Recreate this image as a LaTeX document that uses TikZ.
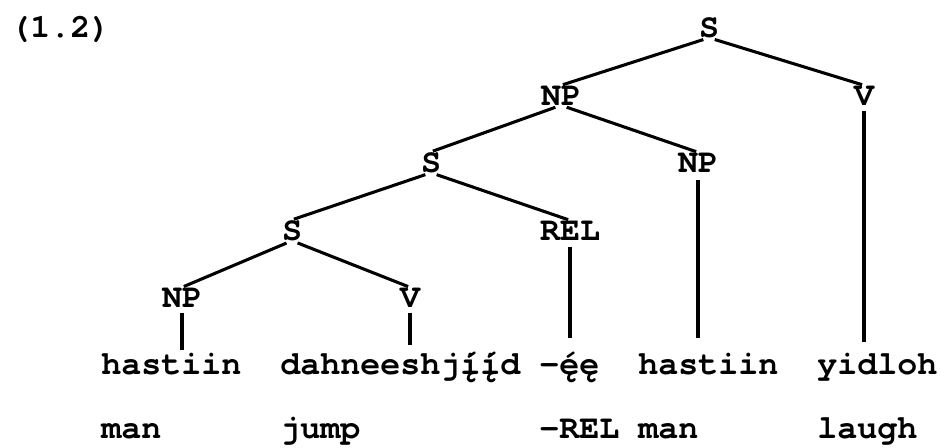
\documentclass[tikz,border=0pt]{standalone}
\usepackage{fontspec}
\newfontfamily\tyfam{TeX Gyre Cursor}
\newcommand\tyf{\tyfam\bfseries\fontsize{25}{30}\selectfont}
\begin{document}
\begin{tikzpicture}[x=0.75pt,y=-0.75pt,
  lab/.style={font=\tyf, inner sep=0pt, anchor=base},
  wrd/.style={font=\tyf, inner sep=0pt, anchor=base west},
  br/.style={line width=2.3pt},
  diag/.style={br, shorten <=4.5pt, shorten >=1.5pt}]
\useasboundingbox (0,0) rectangle (940,447);
% example number
\node[wrd] (ex) at (10,37) {(1.2)};
% tree labels
\node[lab] (s1)  at (709,37)  {S};
\node[lab] (np1) at (561,105) {NP};
\node[lab] (v1)  at (864,105) {V};
\node[lab] (s2)  at (431,172) {S};
\node[lab] (np2) at (698,172) {NP};
\node[lab] (s3)  at (292,240) {S};
\node[lab] (rel) at (570,240) {REL};
\node[lab] (np3) at (182,307) {NP};
\node[lab] (v3)  at (410,307) {V};
% words
\node[wrd] (w1) at (101,374) {hastiin};
\node[wrd] (w2) at (280,374) {dahneeshj^^^^012f^^^^0301^^^^012f^^^^0301d};
\node[wrd] (w3) at (539,374) {-^^^^0119^^^^0301^^^^0119};
\node[wrd] (w4) at (638,374) {hastiin};
\node[wrd] (w5) at (817,374) {yidloh};
% glosses
\node[wrd] (g1) at (101,438) {man};
\node[wrd] (g2) at (280,438) {jump};
\node[wrd] (g3) at (539,438) {-REL};
\node[wrd] (g4) at (638,438) {man};
\node[wrd] (g5) at (817,438) {laugh};
% feet of the vertical branches
\coordinate (t1) at (0,350);
\coordinate (t2) at (0,345);
\coordinate (t3) at (0,338);
\coordinate (t4) at (0,338);
\coordinate (t5) at (0,342);
% branches
\draw[diag] (s1.south) -- (np1.north);
\draw[diag] (s1.south) -- (v1.north);
\draw[diag] (np1.south) -- (s2.north);
\draw[diag] (np1.south) -- (np2.north);
\draw[diag] (s2.south) -- (s3.north);
\draw[diag] (s2.south) -- (rel.north);
\draw[diag] (s3.south) -- (np3.north);
\draw[diag] (s3.south) -- (v3.north);
\draw[br] ([yshift=-4pt]np3.south) -- (np3.south |- t1);
\draw[br] ([yshift=-4pt]v3.south) -- (v3.south |- t2);
\draw[br] ([yshift=-5pt]rel.south) -- (rel.south |- t3);
\draw[br] ([yshift=-6pt]np2.south) -- (np2.south |- t4);
\draw[br] ([yshift=-4.5pt]v1.south) -- (v1.south |- t5);
\end{tikzpicture}
\end{document}
